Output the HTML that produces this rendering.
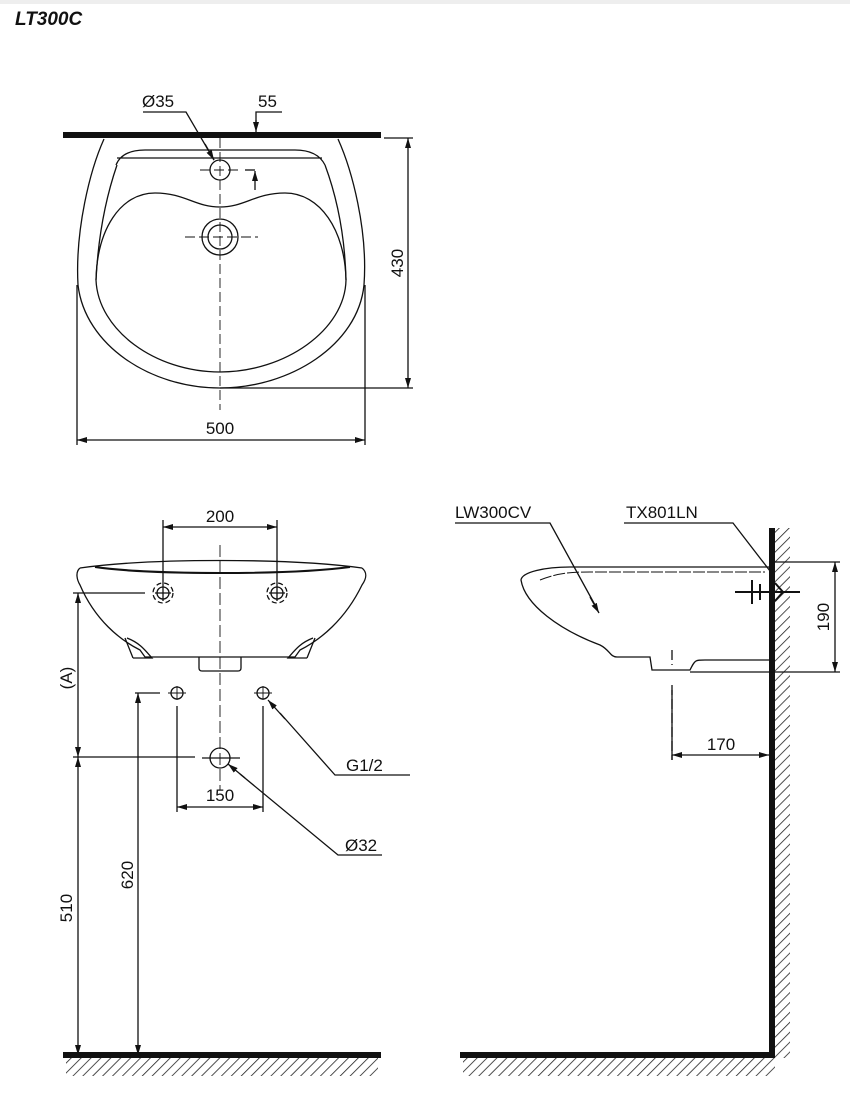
<!DOCTYPE html>
<html><head><meta charset="utf-8"><style>
html,body{margin:0;padding:0;background:#fff;}
svg{display:block;}
text{font-family:"Liberation Sans",sans-serif;fill:#111;}
</style></head><body>
<svg width="850" height="1093" viewBox="0 0 850 1093" xmlns="http://www.w3.org/2000/svg">
<defs>
<marker id="a" viewBox="0 0 10 6" refX="10" refY="3" markerWidth="10" markerHeight="6" orient="auto-start-reverse" markerUnits="userSpaceOnUse"><path d="M0,0 L10,3 L0,6 z" fill="#111"/></marker>
<pattern id="h" width="7" height="7" patternUnits="userSpaceOnUse" patternTransform="rotate(45)"><line x1="0" y1="0" x2="0" y2="7" stroke="#222" stroke-width="1.6"/></pattern>
</defs>
<rect x="0" y="0" width="850" height="4" fill="#eee"/>
<text x="15" y="25" font-size="19" font-weight="bold" font-style="italic">LT300C</text>

<g stroke="#111" fill="none" stroke-width="1.3">
<!-- TOP VIEW -->
<rect x="63" y="132" width="318" height="6" fill="#111" stroke="none"/>
<path d="M104,139 C90,170 75,230 78,285 C85,345 150,388 220,388 C290,388 358,345 364,285 C368,230 352,170 338,139"/>
<path d="M117,158 L322,158 M116,165 C120,155 130,150 145,150 L295,150 C310,150 320,155 325,165"/>
<path d="M117,165 C105,200 98,240 96,280"/>
<path d="M325,165 C338,200 345,240 346,280"/>
<path d="M96,280 C98,330 155,372 220,372 C285,372 345,330 346,280 C345,230 320,193 285,193 C255,193 245,207 220,207 C195,207 185,193 155,193 C120,193 97,230 96,280"/>
<circle cx="220" cy="170" r="10"/>
<circle cx="220" cy="237" r="18"/><circle cx="220" cy="237" r="12"/>
<path d="M220,138 V410 M200,170 H240 M185,237 H258" stroke-dasharray="10,4" stroke-width="0.9"/>
<path d="M245,170 H255"/><line x1="255" y1="190" x2="255" y2="171" marker-end="url(#a)"/>
<path d="M143,112 H186 L214,160" /><line x1="205" y1="144" x2="214" y2="160" marker-end="url(#a)"/>
<path d="M282,112 H256 V122"/><line x1="256" y1="120" x2="256" y2="132" marker-end="url(#a)"/>
<path d="M77,285 V445 M365,285 V445"/>
<line x1="77" y1="440" x2="365" y2="440" marker-start="url(#a)" marker-end="url(#a)"/>
<path d="M384,138 H413 M220,388 H413"/>
<line x1="408" y1="138" x2="408" y2="388" marker-start="url(#a)" marker-end="url(#a)"/>

<!-- FRONT VIEW -->
<path d="M80,568 C150,558 290,558 362,568"/>
<path d="M95,567 C150,575 290,575 350,567" stroke-width="2"/>
<path d="M80,568 C75,572 77,580 80,585 C95,620 120,640 140,650 L145,657 L295,657 L300,650 C320,640 345,620 362,585 C367,578 367,572 362,568"/>
<path d="M125,638 L133,658 M315,638 L307,658 M133,658 L152,658 C145,650 140,643 127,638 M307,658 L288,658 C295,650 300,643 313,638"/>
<path d="M199,657 V668 Q199,671 202,671 H238 Q241,671 241,668 V657"/>
<circle cx="163" cy="593" r="6"/><circle cx="277" cy="593" r="6"/>
<circle cx="163" cy="593" r="10" stroke-dasharray="5,3"/><circle cx="277" cy="593" r="10" stroke-dasharray="5,3"/>
<path d="M155,593 H171 M163,585 V601 M269,593 H285 M277,585 V601"/>
<path d="M163,520 V585 M277,520 V585"/>
<line x1="163" y1="527" x2="277" y2="527" marker-start="url(#a)" marker-end="url(#a)"/>
<path d="M220,545 V790" stroke-dasharray="12,4" stroke-width="0.9"/>
<circle cx="177" cy="693" r="6"/><circle cx="263" cy="693" r="6"/>
<path d="M168,693 H186 M254,693 H272 M177,686 V700 M263,686 V700" stroke-width="0.9"/>
<circle cx="220" cy="758" r="10"/>
<path d="M202,758 H240"/>
<path d="M177,706 V812 M263,706 V812"/>
<line x1="177" y1="807" x2="263" y2="807" marker-start="url(#a)" marker-end="url(#a)"/>
<path d="M73,593 H145 M73,757 H195 M135,693 H160"/>
<line x1="78" y1="593" x2="78" y2="757" marker-start="url(#a)" marker-end="url(#a)"/>
<line x1="78" y1="757" x2="78" y2="1055" marker-start="url(#a)" marker-end="url(#a)"/>
<line x1="138" y1="693" x2="138" y2="1055" marker-start="url(#a)" marker-end="url(#a)"/>
<path d="M410,775 H335 L280,713"/><line x1="285" y1="719" x2="268" y2="700" marker-end="url(#a)"/>
<path d="M382,855 H338 L240,774"/><line x1="245" y1="778" x2="228" y2="764" marker-end="url(#a)"/>
<rect x="63" y="1052" width="318" height="6" fill="#111" stroke="none"/>
<rect x="66" y="1058" width="312" height="18" fill="url(#h)" stroke="none"/>

<!-- SIDE VIEW -->
<rect x="769" y="528" width="6" height="530" fill="#111" stroke="none"/>
<rect x="775" y="528" width="15" height="530" fill="url(#h)" stroke="none"/>
<rect x="460" y="1052" width="315" height="6" fill="#111" stroke="none"/>
<rect x="463" y="1058" width="312" height="18" fill="url(#h)" stroke="none"/>
<path d="M770,567 H570 C545,567 522,572 521,580 C525,605 560,630 600,645 C610,650 610,657 617,657 H650 L652,670 H690 C695,660 695,660 705,660 H769"/>
<path d="M540,580 C560,572 575,572 590,572 H765" stroke-dasharray="12,2" stroke-width="1"/>
<path d="M735,592 H800 M752,580 L752,604 M760,584 L760,600 M775,583 L783,592 L775,601" stroke-width="2"/>
<path d="M672,650 V665 M672,685 V760" stroke-dasharray="10,4"/>
<path d="M672,690 V760"/>
<line x1="672" y1="755" x2="769" y2="755" marker-start="url(#a)" marker-end="url(#a)"/>
<path d="M775,562 H840 M690,672 H840"/>
<line x1="835" y1="562" x2="835" y2="672" marker-start="url(#a)" marker-end="url(#a)"/>
<path d="M455,523 H550 L595,605"/><line x1="590" y1="597" x2="599" y2="613" marker-end="url(#a)"/>
<path d="M624,523 H733 L770,571"/>
</g>

<g font-size="17">
<text x="142" y="107">Ø35</text>
<text x="258" y="107">55</text>
<text x="220" y="434" text-anchor="middle">500</text>
<text transform="translate(403,263) rotate(-90)" text-anchor="middle">430</text>
<text x="220" y="522" text-anchor="middle">200</text>
<text transform="translate(72,678) rotate(-90)" text-anchor="middle">(A)</text>
<text transform="translate(72,908) rotate(-90)" text-anchor="middle">510</text>
<text transform="translate(133,875) rotate(-90)" text-anchor="middle">620</text>
<text x="220" y="801" text-anchor="middle">150</text>
<text x="346" y="771">G1/2</text>
<text x="345" y="851">Ø32</text>
<text x="455" y="518">LW300CV</text>
<text x="626" y="518">TX801LN</text>
<text x="721" y="750" text-anchor="middle">170</text>
<text transform="translate(829,617) rotate(-90)" text-anchor="middle">190</text>
</g>
</svg>
</body></html>
